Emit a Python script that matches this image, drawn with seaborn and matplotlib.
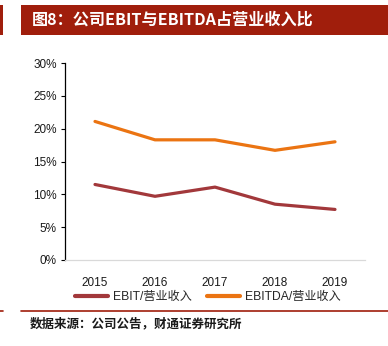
import matplotlib
matplotlib.use("Agg")
import matplotlib.pyplot as plt
import seaborn as sns
import pandas as pd
from matplotlib.patches import Rectangle
from matplotlib.lines import Line2D

# ---- data ----
years = ["2015", "2016", "2017", "2018", "2019"]
ebit_ratio = [11.5, 9.7, 11.1, 8.5, 7.7]
ebitda_ratio = [21.1, 18.3, 18.3, 16.7, 18.0]
series_names = ["EBIT/营业收入", "EBITDA/营业收入"]
y_ticks = [0, 5, 10, 15, 20, 25, 30]
y_tick_labels = ["0%", "5%", "10%", "15%", "20%", "25%", "30%"]
title_text = "图8：公司EBIT与EBITDA占营业收入比"
source_text = "数据来源：公司公告，财通证券研究所"

sns.set_theme(style="white")
plt.rcParams['font.family'] = ['Liberation Sans', 'Noto Sans CJK SC', 'DejaVu Sans']

df = pd.DataFrame({
    "year": years * 2,
    "value": ebit_ratio + ebitda_ratio,
    "series": [series_names[0]] * len(years) + [series_names[1]] * len(years),
})

W, H = 388, 346
fig = plt.figure(figsize=(W / 100, H / 100), dpi=100)
fig.patch.set_facecolor("white")

red = "#A01E0C"
colors = {series_names[0]: "#A2383B", series_names[1]: "#EB7412"}

ax = fig.add_axes([65 / W, 1 - 260 / H, 300 / W, 197 / H])
sns.lineplot(data=df, x="year", y="value", hue="series", palette=colors,
             linewidth=2.3, ax=ax, legend=False, sort=False)
ax.set_xlim(-0.5, len(years) - 0.5)
ax.set_ylim(0, 30)
ax.set_yticks(y_ticks)
ax.set_yticklabels(y_tick_labels)
ax.set_xlabel("")
ax.set_ylabel("")
for s in ["top", "right"]:
    ax.spines[s].set_visible(False)
ax.spines["left"].set_color("black")
ax.spines["left"].set_linewidth(0.9)
ax.spines["bottom"].set_color("#D9D9D9")
ax.spines["bottom"].set_linewidth(0.9)
ax.tick_params(axis="y", which="both", left=True, length=3, width=0.8,
               color="black", labelsize=8.5, pad=3, direction="out")
ax.tick_params(axis="x", bottom=False, labelsize=8.5, pad=6)
for lbl in ax.get_xticklabels() + ax.get_yticklabels():
    lbl.set_color("#1A1A1A")
ax.grid(False)

# legend
handles = [Line2D([], [], color=colors[n], linewidth=3) for n in series_names]
fig.legend(handles, series_names, loc="center", bbox_to_anchor=(208 / W, 1 - 297 / H),
           ncol=2, frameon=False, fontsize=8.7, handlelength=2.7, handletextpad=0.4,
           columnspacing=1.3)

# title bar
fig.patches.append(Rectangle((0, 1 - 35 / H), 3 / W, 30 / H, transform=fig.transFigure,
                             facecolor=red, edgecolor="none"))
fig.patches.append(Rectangle((21 / W, 1 - 35 / H), 1 - 21 / W, 30 / H, transform=fig.transFigure,
                             facecolor=red, edgecolor="none"))
fig.text(32 / W, 1 - 20 / H, title_text, color="white", fontsize=11.6, fontweight="bold",
         va="center", ha="left", family=['Noto Sans CJK SC', 'DejaVu Sans'])

# footer line and source
fig.add_artist(Line2D([0, 3 / W], [1 - 310.5 / H] * 2, color=red, linewidth=1.2,
                      transform=fig.transFigure))
fig.add_artist(Line2D([21 / W, 1], [1 - 310.5 / H] * 2, color=red, linewidth=1.2,
                      transform=fig.transFigure))
fig.text(30 / W, 1 - 324 / H, source_text, color="#1A1A1A", fontsize=9, fontweight="bold",
         va="center", ha="left", family=['Noto Sans CJK SC', 'DejaVu Sans'])

fig.savefig("out.png", dpi=100, facecolor="white")
